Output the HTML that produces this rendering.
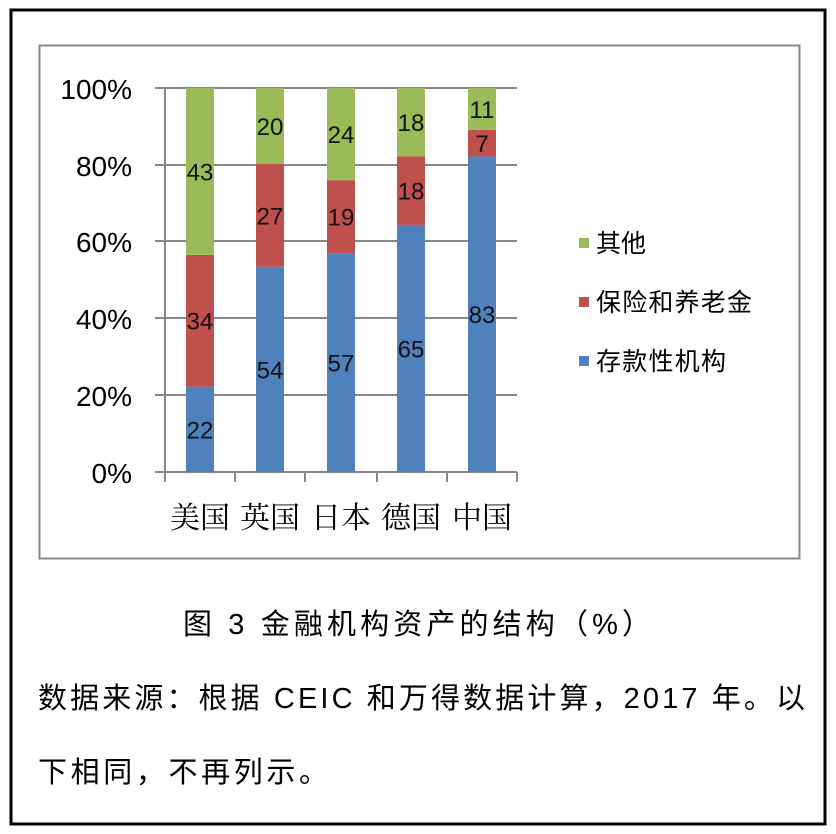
<!DOCTYPE html>
<html><head><meta charset="utf-8"><style>
body{margin:0;background:#fff;}
svg{display:block;}
text{font-family:"Liberation Sans","Noto Sans CJK SC",sans-serif;}
</style></head><body>
<svg width="836" height="834" xmlns="http://www.w3.org/2000/svg">
<rect x="11" y="10" width="814" height="814" fill="#fff" stroke="#000" stroke-width="3"/>
<rect x="39.5" y="45.5" width="760" height="513" fill="#fff" stroke="#888" stroke-width="2"/>
<g stroke="#888" stroke-width="2">
<line x1="155" y1="88" x2="517" y2="88"/>
<line x1="155" y1="165" x2="517" y2="165"/>
<line x1="155" y1="241" x2="517" y2="241"/>
<line x1="155" y1="318" x2="517" y2="318"/>
<line x1="155" y1="395" x2="517" y2="395"/>
<line x1="155" y1="472" x2="517" y2="472"/>
<line x1="165" y1="88" x2="165" y2="482"/>
<line x1="235" y1="472" x2="235" y2="482"/>
<line x1="305" y1="472" x2="305" y2="482"/>
<line x1="377" y1="472" x2="377" y2="482"/>
<line x1="447" y1="472" x2="447" y2="482"/>
<line x1="517" y1="472" x2="517" y2="482"/>
</g>
<g id="bars"></g>
<g font-size="28" text-anchor="end" fill="#000">
<text x="132" y="99">100%</text>
<text x="132" y="176">80%</text>
<text x="132" y="252">60%</text>
<text x="132" y="329">40%</text>
<text x="132" y="406">20%</text>
<text x="132" y="483">0%</text>
</g>
<g font-size="30" text-anchor="middle" fill="#000">
<text x="200" y="528" style="font-family:'Noto Serif CJK SC',serif">美国</text>
<text x="270" y="528" style="font-family:'Noto Serif CJK SC',serif">英国</text>
<text x="341" y="528" style="font-family:'Noto Serif CJK SC',serif">日本</text>
<text x="411" y="528" style="font-family:'Noto Serif CJK SC',serif">德国</text>
<text x="482" y="528" style="font-family:'Noto Serif CJK SC',serif">中国</text>
</g>
<rect x="579" y="238" width="10" height="10" fill="#9BBB59"/>
<rect x="579" y="297" width="10" height="10" fill="#C0504D"/>
<rect x="579" y="356" width="10" height="10" fill="#4F81BD"/>
<g font-size="25" fill="#000">
<text x="596" y="252">其他</text>
<text x="596" y="311" textLength="156">保险和养老金</text>
<text x="596" y="370" textLength="130">存款性机构</text>
</g>
<text x="183" y="634" font-size="29" fill="#000" textLength="468">图 3  金融机构资产的结构（%）</text>
<text x="38" y="708" font-size="29" fill="#000" textLength="767">数据来源：根据 CEIC 和万得数据计算，2017 年。以</text>
<text x="38" y="782" font-size="29" fill="#000" textLength="290">下相同，不再列示。</text>
</svg>
<script>
var data=[[200,22,34,43],[270,54,27,20],[341,57,19,24],[411,65,18,18],[482,83,7,11]];
var cols=["#4F81BD","#C0504D","#9BBB59"];
var g=document.getElementById("bars"),h="";
data.forEach(function(d){var t=d[1]+d[2]+d[3],y=472;
for(var i=0;i<3;i++){var hh=d[i+1]/t*384;
h+='<rect x="'+(d[0]-14)+'" y="'+(y-hh)+'" width="28" height="'+hh+'" fill="'+cols[i]+'"/>';
h+='<text x="'+d[0]+'" y="'+(y-hh/2+9)+'" font-size="24" text-anchor="middle" fill="#111">'+d[i+1]+'</text>';
y-=hh;}});
g.innerHTML=h;
</script>
</body></html>
